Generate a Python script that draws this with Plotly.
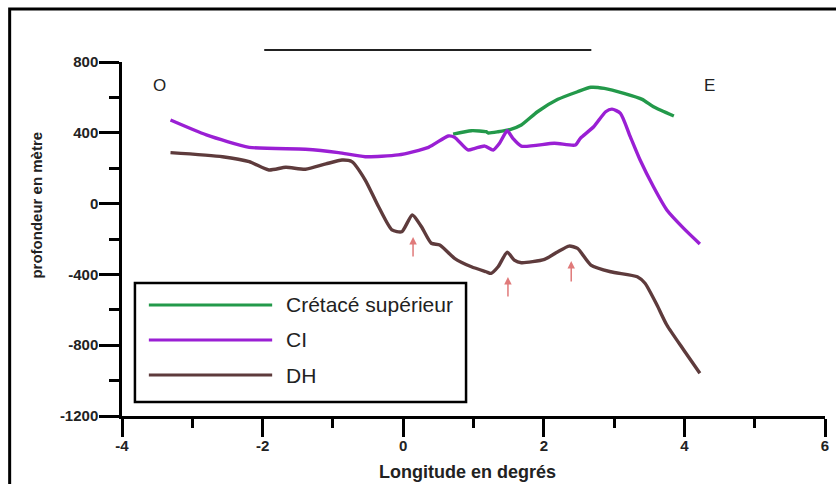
import plotly.graph_objects as go

# ---- data ----
cs_x = [0.71, 0.97, 1.18, 1.21, 1.35, 1.53, 1.68, 1.91, 2.20, 2.48, 2.67, 2.86, 3.14, 3.40, 3.56, 3.85]
cs_y = [393, 412, 406, 399, 406, 420, 444, 519, 589, 632, 657, 651, 623, 589, 547, 495]

ci_x = [-3.31, -2.80, -2.19, -1.39, -0.92, -0.54, -0.07, 0.36, 0.64, 0.73, 0.92, 1.02, 1.16,
        1.28, 1.37, 1.48, 1.56, 1.68, 2.15, 2.45, 2.52, 2.71, 2.88, 2.97, 3.09, 3.23, 3.37,
        3.56, 3.75, 3.99, 4.22]
ci_y = [472, 388, 318, 307, 288, 265, 275, 318, 382, 375, 303, 312, 325,
        303, 341, 412, 369, 325, 341, 331, 369, 434, 519, 534, 510, 378, 246,
        95, -36, -140, -228]

dh_x = [-3.31, -2.57, -2.19, -1.91, -1.67, -1.39, -1.10, -0.87, -0.73, -0.54, -0.35, -0.16,
        -0.02, 0.13, 0.26, 0.40, 0.52, 0.73, 0.97, 1.18, 1.25, 1.35, 1.48, 1.58, 1.68,
        2.01, 2.20, 2.36, 2.48, 2.67, 2.95, 3.33, 3.44, 3.61, 3.75, 3.99, 4.22]
dh_y = [288, 265, 237, 190, 205, 194, 224, 246, 237, 133, -18, -149,
        -159, -64, -131, -224, -234, -309, -357, -385, -394, -357, -275, -319, -334,
        -315, -272, -240, -253, -347, -385, -413, -450, -573, -686, -827, -959]

series_names = ["Crétacé supérieur", "CI", "DH"]
series_colors = ["#23994a", "#9a1fd4", "#5e3b3c"]

arrow_x = [0.14, 1.49, 2.39]
arrow_head_y = [-189, -415, -324]
arrow_tail_y = [-307, -533, -449]

x_ticks = [-4, -2, 0, 2, 4, 6]
x_tick_labels = ["-4", "-2", "0", "2", "4", "6"]
y_ticks = [800, 400, 0, -400, -800, -1200]
y_tick_labels = ["800", "400", "0", "-400", "-800", "-1200"]

# ---- figure ----
fig = go.Figure()
for name, xs, ys, col in zip(series_names, [cs_x, ci_x, dh_x], [cs_y, ci_y, dh_y], series_colors):
    fig.add_trace(go.Scatter(x=xs, y=ys, mode="lines", name=name,
                             line=dict(color=col, width=3.4, shape="spline", smoothing=0.6),
                             showlegend=False))

annotations = []
for ax_, hy, ty in zip(arrow_x, arrow_head_y, arrow_tail_y):
    annotations.append(dict(x=ax_, y=hy, ax=ax_, ay=ty, xref="x", yref="y", axref="x", ayref="y",
                            text="", showarrow=True, arrowhead=2, arrowsize=1, arrowwidth=1.5,
                            arrowcolor="#e07a7a"))

# O / E labels
annotations.append(dict(x=-3.46, y=670, xref="x", yref="y", text="O", showarrow=False,
                        font=dict(family="Arial", size=17, color="#222")))
annotations.append(dict(x=4.35, y=670, xref="x", yref="y", text="E", showarrow=False,
                        font=dict(family="Arial", size=17, color="#222")))

# axis titles
annotations.append(dict(x=-0.122, y=0.595, xref="paper", yref="paper", text="profondeur en mètre",
                        textangle=-90, showarrow=False, xanchor="center", yanchor="middle",
                        font=dict(family="Arial", size=15, color="#222", weight="bold")))
annotations.append(dict(x=0.491, y=-0.157, xref="paper", yref="paper", text="Longitude en degrés",
                        showarrow=False, xanchor="center", yanchor="middle",
                        font=dict(family="Arial", size=18, color="#222", weight="bold")))

# manual legend
shapes = []
leg_rows = [0.3136, 0.2147, 0.1158]
shapes.append(dict(type="rect", xref="paper", yref="paper", x0=0.0184, x1=0.4894, y0=0.0395, y1=0.3757,
                   line=dict(color="black", width=2.5), fillcolor="white", layer="above"))
for name, col, ry in zip(series_names, series_colors, leg_rows):
    shapes.append(dict(type="line", xref="paper", yref="paper", x0=0.0382, x1=0.2136, y0=ry, y1=ry,
                       line=dict(color=col, width=3), layer="above"))
    annotations.append(dict(x=0.2306, y=ry, xref="paper", yref="paper", text=name, showarrow=False,
                            xanchor="left", yanchor="middle",
                            font=dict(family="Arial", size=21, color="#222")))

# outer frame
shapes.append(dict(type="rect", xref="paper", yref="paper", x0=-0.1598, x1=1.03, y0=-0.25, y1=1.1497,
                   line=dict(color="black", width=3)))
# top horizontal line
shapes.append(dict(type="line", xref="x", yref="paper", x0=-1.977, x1=2.676, y0=1.034, y1=1.034,
                   line=dict(color="#222", width=2)))

fig.update_layout(
    width=836, height=484,
    margin=dict(l=122, r=7, t=62, b=68),
    paper_bgcolor="white", plot_bgcolor="white",
    shapes=shapes, annotations=annotations,
    showlegend=False,
)
fig.update_xaxes(range=[-4, 6], tickvals=x_ticks, ticktext=x_tick_labels, ticks="outside",
                 ticklen=18, tickwidth=2.5, ticklabelstandoff=-4,
                 tickcolor="black", showline=True, linecolor="black", linewidth=2.5,
                 showgrid=False, zeroline=False,
                 minor=dict(dtick=1, tick0=-4, ticks="outside", ticklen=9, tickwidth=2.5, tickcolor="black"),
                 tickfont=dict(family="Arial", size=15, color="#222", weight="bold"))
fig.update_yaxes(range=[-1200, 800], tickvals=y_ticks, ticktext=y_tick_labels, ticks="outside",
                 ticklen=20, tickwidth=2.5, ticklabelstandoff=-2,
                 tickcolor="black", showline=True, linecolor="black", linewidth=2.5,
                 showgrid=False, zeroline=False,
                 minor=dict(dtick=200, tick0=0, ticks="outside", ticklen=10, tickwidth=2.5, tickcolor="black"),
                 tickfont=dict(family="Arial", size=15, color="#222", weight="bold"))

fig.write_html("out.html")
